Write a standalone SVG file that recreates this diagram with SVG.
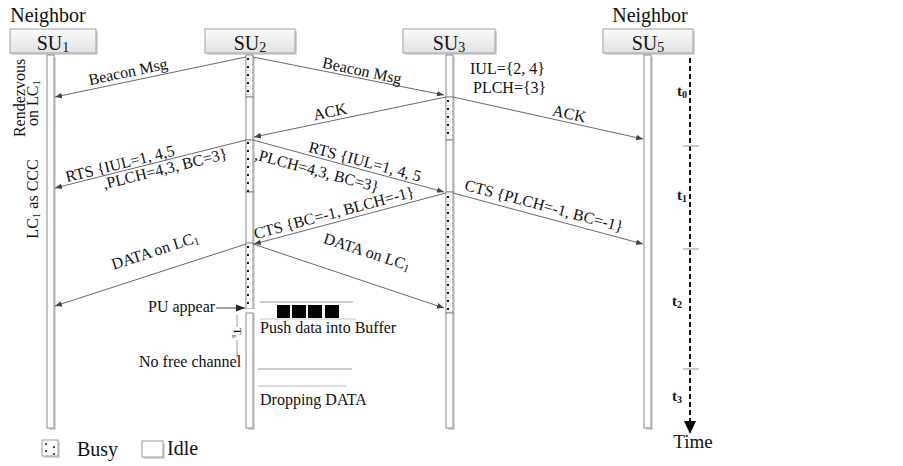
<svg xmlns="http://www.w3.org/2000/svg" width="903" height="466" viewBox="0 0 903 466">
<defs>
<linearGradient id="boxg" x1="0" y1="0" x2="0" y2="1">
<stop offset="0" stop-color="#fafafa"/>
<stop offset="1" stop-color="#e2e2e2"/>
</linearGradient>
<marker id="ah" viewBox="0 0 10 10" refX="10" refY="5" markerWidth="7" markerHeight="7" orient="auto" markerUnits="userSpaceOnUse">
<path d="M0,1 L10,5 L0,9 Z" fill="#444"/>
</marker>
<marker id="ahd" viewBox="0 0 10 10" refX="10" refY="5" markerWidth="9" markerHeight="9" orient="auto" markerUnits="userSpaceOnUse">
<path d="M0,1 L10,5 L0,9 Z" fill="#222"/>
</marker>
</defs>
<style>
text{font-family:"Liberation Serif","Times New Roman",serif;fill:#111}
.box{fill:url(#boxg);stroke:#a0a0a0;stroke-width:1}
.bsh{fill:#d6d6d6}
.life{fill:#fff;stroke:#8a8a8a;stroke-width:1}
.lsh{fill:#d8d8d8}
.dots{stroke:#111;stroke-width:2;stroke-dasharray:2 6}
.msg{stroke:#6a6a6a;stroke-width:1;fill:none;marker-end:url(#ah)}
.lbl{font-size:16px}
.hd{font-size:20px}
.tl{font-size:15px;font-weight:bold}
.thin{stroke:#9a9a9a;stroke-width:1;fill:none}
</style>
<rect width="903" height="466" fill="#fff"/>

<g id="labels-neighbor">
<text x="48" y="22" class="hd" text-anchor="middle">Neighbor</text>
<text x="650" y="22" class="hd" text-anchor="middle">Neighbor</text>
</g>

<g id="SU1">
<rect x="12" y="31" width="86" height="24" class="bsh"/>
<rect x="10" y="29" width="86" height="24" class="box"/>
<text x="53" y="50" class="hd" text-anchor="middle">SU<tspan font-size="14" dy="2">1</tspan></text>
<rect x="49" y="57" width="7" height="373" class="lsh"/>
<rect x="47" y="55" width="7" height="373" class="life"/>
</g>

<g id="SU2">
<rect x="207" y="31" width="90" height="24" class="bsh"/>
<rect x="205" y="29" width="90" height="24" class="box"/>
<text x="250" y="50" class="hd" text-anchor="middle">SU<tspan font-size="14" dy="2">2</tspan></text>
<rect x="248" y="57" width="7" height="373" class="lsh"/>
<rect x="246" y="55" width="7" height="42" class="life"/>
<rect x="246" y="97" width="7" height="43" class="life"/>
<rect x="246" y="140" width="7" height="52" class="life"/>
<rect x="246" y="192" width="7" height="51" class="life"/>
<rect x="246" y="243" width="7" height="66" class="life"/>
<rect x="244" y="309" width="12" height="4" fill="#fff"/>
<rect x="246" y="313" width="7" height="115" class="life"/>
<line x1="248" y1="58" x2="248" y2="97" class="dots"/>
<line x1="248" y1="142" x2="248" y2="192" class="dots"/>
<line x1="248" y1="246" x2="248" y2="309" class="dots"/>
</g>

<g id="SU3">
<rect x="405" y="31" width="92" height="24" class="bsh"/>
<rect x="403" y="29" width="92" height="24" class="box"/>
<text x="449" y="50" class="hd" text-anchor="middle">SU<tspan font-size="14" dy="2">3</tspan></text>
<rect x="448" y="57" width="7" height="373" class="lsh"/>
<rect x="446" y="55" width="7" height="42" class="life"/>
<rect x="446" y="97" width="7" height="43" class="life"/>
<rect x="446" y="140" width="7" height="52" class="life"/>
<rect x="446" y="192" width="7" height="121" class="life"/>
<rect x="446" y="313" width="7" height="115" class="life"/>
<line x1="448" y1="100" x2="448" y2="140" class="dots"/>
<line x1="448" y1="196" x2="448" y2="313" class="dots"/>
<text x="470" y="74" class="lbl">IUL={2, 4}</text>
<text x="473" y="93" class="lbl">PLCH={3}</text>
</g>

<g id="SU5">
<rect x="605" y="31" width="90" height="24" class="bsh"/>
<rect x="603" y="29" width="90" height="24" class="box"/>
<text x="648" y="50" class="hd" text-anchor="middle">SU<tspan font-size="14" dy="2">5</tspan></text>
<rect x="646" y="57" width="7" height="373" class="lsh"/>
<rect x="644" y="55" width="7" height="373" class="life"/>
</g>

<g id="phase-labels">
<text transform="translate(25,98) rotate(-90)" class="lbl" text-anchor="middle">Rendezvous</text>
<text transform="translate(38,103) rotate(-90)" class="lbl" text-anchor="middle">on LC<tspan font-size="11" dy="2">1</tspan></text>
<text transform="translate(38,199) rotate(-90)" class="lbl" text-anchor="middle">LC<tspan font-size="11" dy="2">1</tspan><tspan dy="-2"> as CCC</tspan></text>
</g>

<g id="connectors">
<path d="M246,57 L55,97" class="msg"/>
<path d="M253,57 L444,95" class="msg"/>
<path d="M446,97 L254,137" class="msg"/>
<path d="M453,97 L643,139" class="msg"/>
<path d="M246,140 L55,188" class="msg"/>
<path d="M253,140 L444,192" class="msg"/>
<path d="M446,193 L254,244" class="msg"/>
<path d="M453,193 L643,244" class="msg"/>
<path d="M246,244 L55,306" class="msg"/>
<path d="M253,244 L444,308" class="msg"/>
<path d="M216,308 L245,308" stroke="#444" stroke-width="1" fill="none" marker-end="url(#ahd)"/>
</g>

<g id="message-labels">
<text transform="translate(128,72) rotate(-12)" y="5" class="lbl" text-anchor="middle">Beacon Msg</text>
<text transform="translate(362,71) rotate(12)" y="5" class="lbl" text-anchor="middle">Beacon Msg</text>
<text transform="translate(330,112) rotate(-12)" y="5" class="lbl" text-anchor="middle">ACK</text>
<text transform="translate(569,114) rotate(12.5)" y="5" class="lbl" text-anchor="middle">ACK</text>
<text transform="translate(120,164) rotate(-14)" y="5" class="lbl" text-anchor="middle">RTS {IUL=1, 4,5</text>
<text transform="translate(165,169) rotate(-14)" y="5" class="lbl" text-anchor="middle">,PLCH=4,3, BC=3}</text>
<text transform="translate(365,162) rotate(15)" y="5" class="lbl" text-anchor="middle">RTS {IUL=1, 4, 5</text>
<text transform="translate(317,171) rotate(15)" y="5" class="lbl" text-anchor="middle">,PLCH=4,3, BC=3}</text>
<text transform="translate(334,213) rotate(-15)" y="5" class="lbl" text-anchor="middle">CTS {BC=-1, BLCH=-1}</text>
<text transform="translate(544,206) rotate(15)" y="5" class="lbl" text-anchor="middle">CTS {PLCH=-1, BC=-1}</text>
<text transform="translate(155,251) rotate(-18)" y="5" class="lbl" text-anchor="middle">DATA on LC<tspan font-size="11" dy="2">1</tspan></text>
<text transform="translate(367,252) rotate(18)" y="5" class="lbl" text-anchor="middle">DATA on LC<tspan font-size="11" dy="2">1</tspan></text>
</g>

<g id="pu-event">
<text x="148" y="312" class="lbl">PU appear</text>
<line x1="237" y1="315" x2="237" y2="327" class="thin"/>
<line x1="237" y1="340" x2="237" y2="358" class="thin"/>
<text transform="translate(234,328) rotate(90)" font-size="11">T<tspan font-size="8" dy="2">s</tspan></text>
<text x="139" y="367" class="lbl">No free channel</text>
</g>

<g id="buffer">
<line x1="260" y1="302" x2="353" y2="302" class="thin"/>
<line x1="260" y1="319" x2="356" y2="319" stroke="#c8c8c8" stroke-width="1"/>
<rect x="277" y="305" width="13" height="13" fill="#000"/>
<rect x="292" y="305" width="14" height="13" fill="#000"/>
<rect x="308" y="305" width="14" height="13" fill="#000"/>
<rect x="325" y="305" width="14" height="13" fill="#000"/>
<text x="260" y="333" class="lbl">Push data into Buffer</text>
</g>

<g id="drop">
<line x1="258" y1="369" x2="352" y2="369" class="thin"/>
<line x1="258" y1="386" x2="346" y2="386" stroke="#b8b8b8" stroke-width="1"/>
<text x="260" y="405" class="lbl">Dropping DATA</text>
</g>

<g id="time-axis">
<line x1="690" y1="58" x2="690" y2="424" stroke="#111" stroke-width="2" stroke-dasharray="5 3"/>
<path d="M684,421 L696,421 L690,434 Z" fill="#000"/>
<line x1="683" y1="146" x2="699" y2="146" stroke="#999" stroke-width="1"/>
<line x1="683" y1="249" x2="699" y2="249" stroke="#999" stroke-width="1"/>
<line x1="683" y1="369" x2="699" y2="369" stroke="#999" stroke-width="1"/>
<text x="677" y="96" class="tl">t<tspan font-size="10" dy="2">0</tspan></text>
<text x="677" y="200" class="tl">t<tspan font-size="10" dy="2">1</tspan></text>
<text x="672" y="306" class="tl">t<tspan font-size="10" dy="2">2</tspan></text>
<text x="672" y="401" class="tl">t<tspan font-size="10" dy="2">3</tspan></text>
<text x="693" y="448" font-size="19" text-anchor="middle">Time</text>
</g>

<g id="legend">
<rect x="44" y="442" width="16" height="16" fill="#d8d8d8"/>
<rect x="42" y="440" width="16" height="16" fill="#fff" stroke="#999" stroke-width="1"/>
<circle cx="46" cy="444" r="1" fill="#111"/><circle cx="46" cy="451" r="1" fill="#111"/>
<circle cx="54" cy="447" r="1" fill="#111"/><circle cx="54" cy="454" r="1" fill="#111"/>
<text x="77" y="456" font-size="20">Busy</text>
<rect x="144" y="443" width="21" height="16" fill="#d8d8d8"/>
<rect x="142" y="441" width="21" height="16" fill="#fff" stroke="#999" stroke-width="1"/>
<text x="167" y="455" font-size="20">Idle</text>
</g>
</svg>
